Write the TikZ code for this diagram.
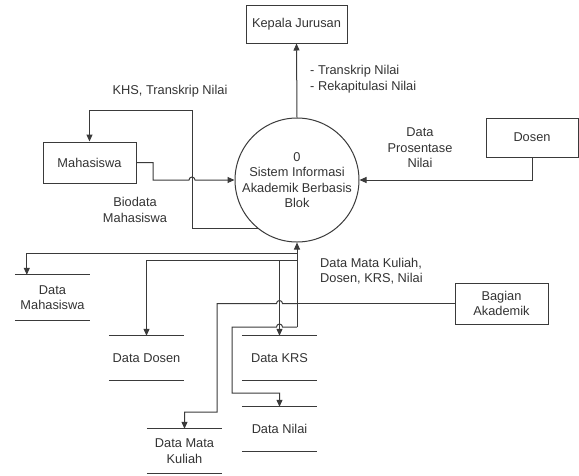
\documentclass[tikz,border=0pt]{standalone}
\usepackage{fontspec}
\setmainfont{Liberation Sans}
\usetikzlibrary{arrows.meta}
\definecolor{ln}{HTML}{3A3A3A}
\definecolor{tx}{HTML}{333333}
\begin{document}
\begin{tikzpicture}[x=1pt,y=-1pt,
  every node/.style={font=\fontsize{12.8}{15.5}\selectfont, text=tx},
  ent/.style={draw=ln, line width=1pt, inner sep=0pt, align=center},
  store/.style={inner sep=0pt, align=center, minimum width=75pt, minimum height=44pt},
  line/.style={draw=ln, line width=1pt},
  flow/.style={line, -{Triangle[length=7pt,width=6pt]}},
  lbl/.style={align=center, inner sep=0pt}
]
\useasboundingbox (0,0) rectangle (579,475);

% entities and process
\node[ent, minimum width=101pt, minimum height=38pt] (kep) at (296.5,24) {Kepala Jurusan};
\node[draw=ln, line width=1pt, circle, minimum size=124pt, inner sep=0pt, align=center] (proc) at (297,180) {0\\Sistem Informasi\\Akademik Berbasis\\Blok};
\node[ent, minimum width=93pt, minimum height=41pt] (maha) at (89.5,162.5) {Mahasiswa};
\node[ent, minimum width=92pt, minimum height=39pt] (dosen) at (532,137.5) {Dosen};
\node[ent, minimum width=93pt, minimum height=41pt] (bag) at (501.5,303.5) {Bagian\\Akademik};

% data stores
\node[store, minimum height=45pt] (dmhs) at (52.5,297.5) {Data\\Mahasiswa};
\node[store] (ddos) at (146.5,358) {Data Dosen};
\node[store] (dkrs) at (279.5,358) {Data KRS};
\node[store] (dmk) at (184.5,451) {Data Mata\\Kuliah};
\node[store] (dnil) at (279.5,429) {Data Nilai};
\foreach \s in {dmhs,ddos,dkrs,dmk,dnil} {
  \draw[line] (\s.north west) -- (\s.north east) (\s.south west) -- (\s.south east);
}

% labels
\node[lbl] (l1) at (170,91) {KHS, Transkrip Nilai};
\node[lbl, align=left, anchor=west] (l2) at (310,79) {- Transkrip Nilai\\- Rekapitulasi Nilai};
\node[lbl] (l3) at (420,148) {Data\\Prosentase\\Nilai};
\node[lbl] (l4) at (135,210) {Biodata\\Mahasiswa};
\node[lbl, align=left, anchor=west] (l5) at (320,271) {Data Mata Kuliah,\\Dosen, KRS, Nilai};

% flows top
\draw[flow] (proc.north) -- (kep.south);
\draw[flow] (dosen.south) |- (proc.east);
\draw[flow] (maha.east) -| (153,180) -- (189,180) arc[start angle=180,end angle=360,radius=3] -- (proc.west);
\draw[flow] (proc.231) -| (192,110) -| (maha.north);

% flows bottom
\coordinate (j1) at (297,253);
\coordinate (j2) at (297,260);
\coordinate (j3) at (proc.south |- bag.west);
\coordinate (j4) at (297,327);
\draw[flow] (j4) -- (proc.south);
\draw[line] (bag.west) -- (j3);
\draw[flow] (j1) -| ([xshift=12pt]dmhs.north west);
\draw[flow] (j2) -| (ddos.north);
\draw[flow] (dkrs.north |- j2) -- (dkrs.north);
\draw[flow] (j3) -- (282.5,303.5) arc[start angle=0,end angle=-180,radius=3] -- (217,303.5) -- (217,412) -| (dmk.north);
\draw[flow] (j4) -- (282.5,327) arc[start angle=0,end angle=-180,radius=3] -- (232,327) -- (232,393) -| (dnil.north);
\end{tikzpicture}
\end{document}
